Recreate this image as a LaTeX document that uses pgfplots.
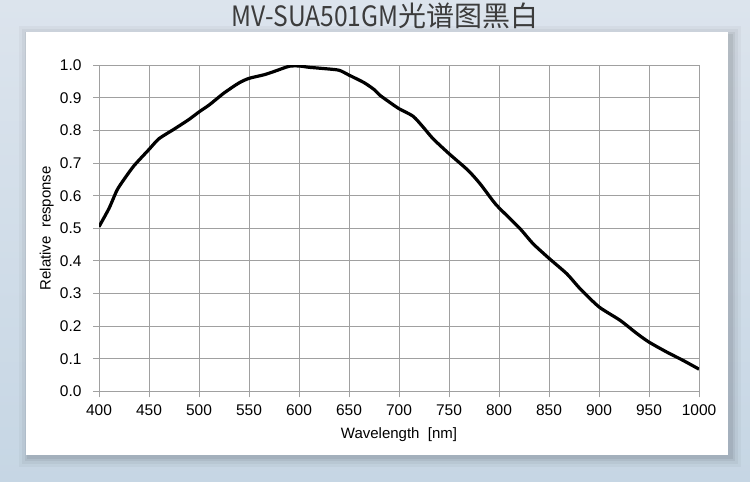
\documentclass[border=0pt]{standalone}
\usepackage{pgfplots}
\pgfplotsset{compat=1.18}
\usepackage{fontspec}
\setmainfont{Liberation Sans}
\newfontfamily\cjk{Noto Sans CJK SC}
\definecolor{bgA}{HTML}{DCE4ED}
\definecolor{bgB}{HTML}{C6D6E4}
\definecolor{gridc}{HTML}{A0A0A0}
\definecolor{titlec}{HTML}{3C3C3C}
\begin{document}
\begin{tikzpicture}[x=1pt,y=1pt]
\shade[top color=bgA, bottom color=bgB] (0,0) rectangle (750,481);
% panel shadow
\foreach \d/\o in {10/0.03,7/0.04,4/0.05,2/0.06}{
  \fill[black,opacity=\o] (26-\d+3,26-\d-2) rectangle (728+\d+3,449+\d-4);
}
\fill[white] (26,26) rectangle (728,449);
\node[text=titlec,font={\cjk\fontsize{28}{30}\selectfont}] at (385,465) {\scalebox{0.88}[1]{MV-SUA501GM}光谱图黑白};
\begin{axis}[
  at={(99pt,90pt)}, anchor=south west,
  scale only axis, width=600pt, height=326pt,
  xmin=400, xmax=1000, ymin=0, ymax=1,
  xtick={400,450,...,1000}, ytick={0,0.1,...,1.0},
  grid=major,
  grid style={gridc, line width=0.9pt},
  axis line style={gridc, line width=0.9pt},
  tick style={gridc, line width=0.9pt},
  major tick length=6pt,
  tick align=outside,
  xtick pos=lower, ytick pos=left,
  /pgf/number format/assume math mode=true,
  font={\fontsize{15.5}{18}\selectfont},
  yticklabel style={xshift=-8pt, /pgf/number format/.cd, fixed, fixed zerofill, precision=1},
  xticklabel style={yshift=-4pt, /pgf/number format/.cd, 1000 sep={}},
  xlabel={Wavelength\ \ [nm]},
  ylabel={Relative\ \ response},
  xlabel style={at={(axis description cs:0.5,-0.132)}, anchor=center, font={\fontsize{15}{18}\selectfont}},
  ylabel style={at={(axis description cs:-0.087,0.5)}, anchor=center, font={\fontsize{15}{18}\selectfont}},
]
\addplot[black, line width=3.2pt, smooth, tension=0.4] coordinates {
(400,0.505) (410,0.561) (418,0.617) (425,0.650) (435,0.692) (450,0.742)
(460,0.775) (475,0.804) (490,0.834) (500,0.857) (510,0.878) (525,0.915)
(540,0.946) (550,0.960) (565,0.971) (575,0.981) (590,0.997) (600,0.998)
(610,0.994) (625,0.990) (640,0.985) (650,0.970) (665,0.947) (675,0.926)
(681,0.908) (690,0.888) (700,0.867) (714,0.844) (724,0.811) (734,0.775)
(750,0.729) (769,0.678) (781,0.637) (794,0.584) (800,0.563) (821,0.499)
(834,0.453) (850,0.408) (868,0.360) (881,0.315) (900,0.259) (921,0.218)
(938,0.177) (950,0.151) (968,0.120) (984,0.095) (1000,0.068)
};
\end{axis}
\end{tikzpicture}
\end{document}
